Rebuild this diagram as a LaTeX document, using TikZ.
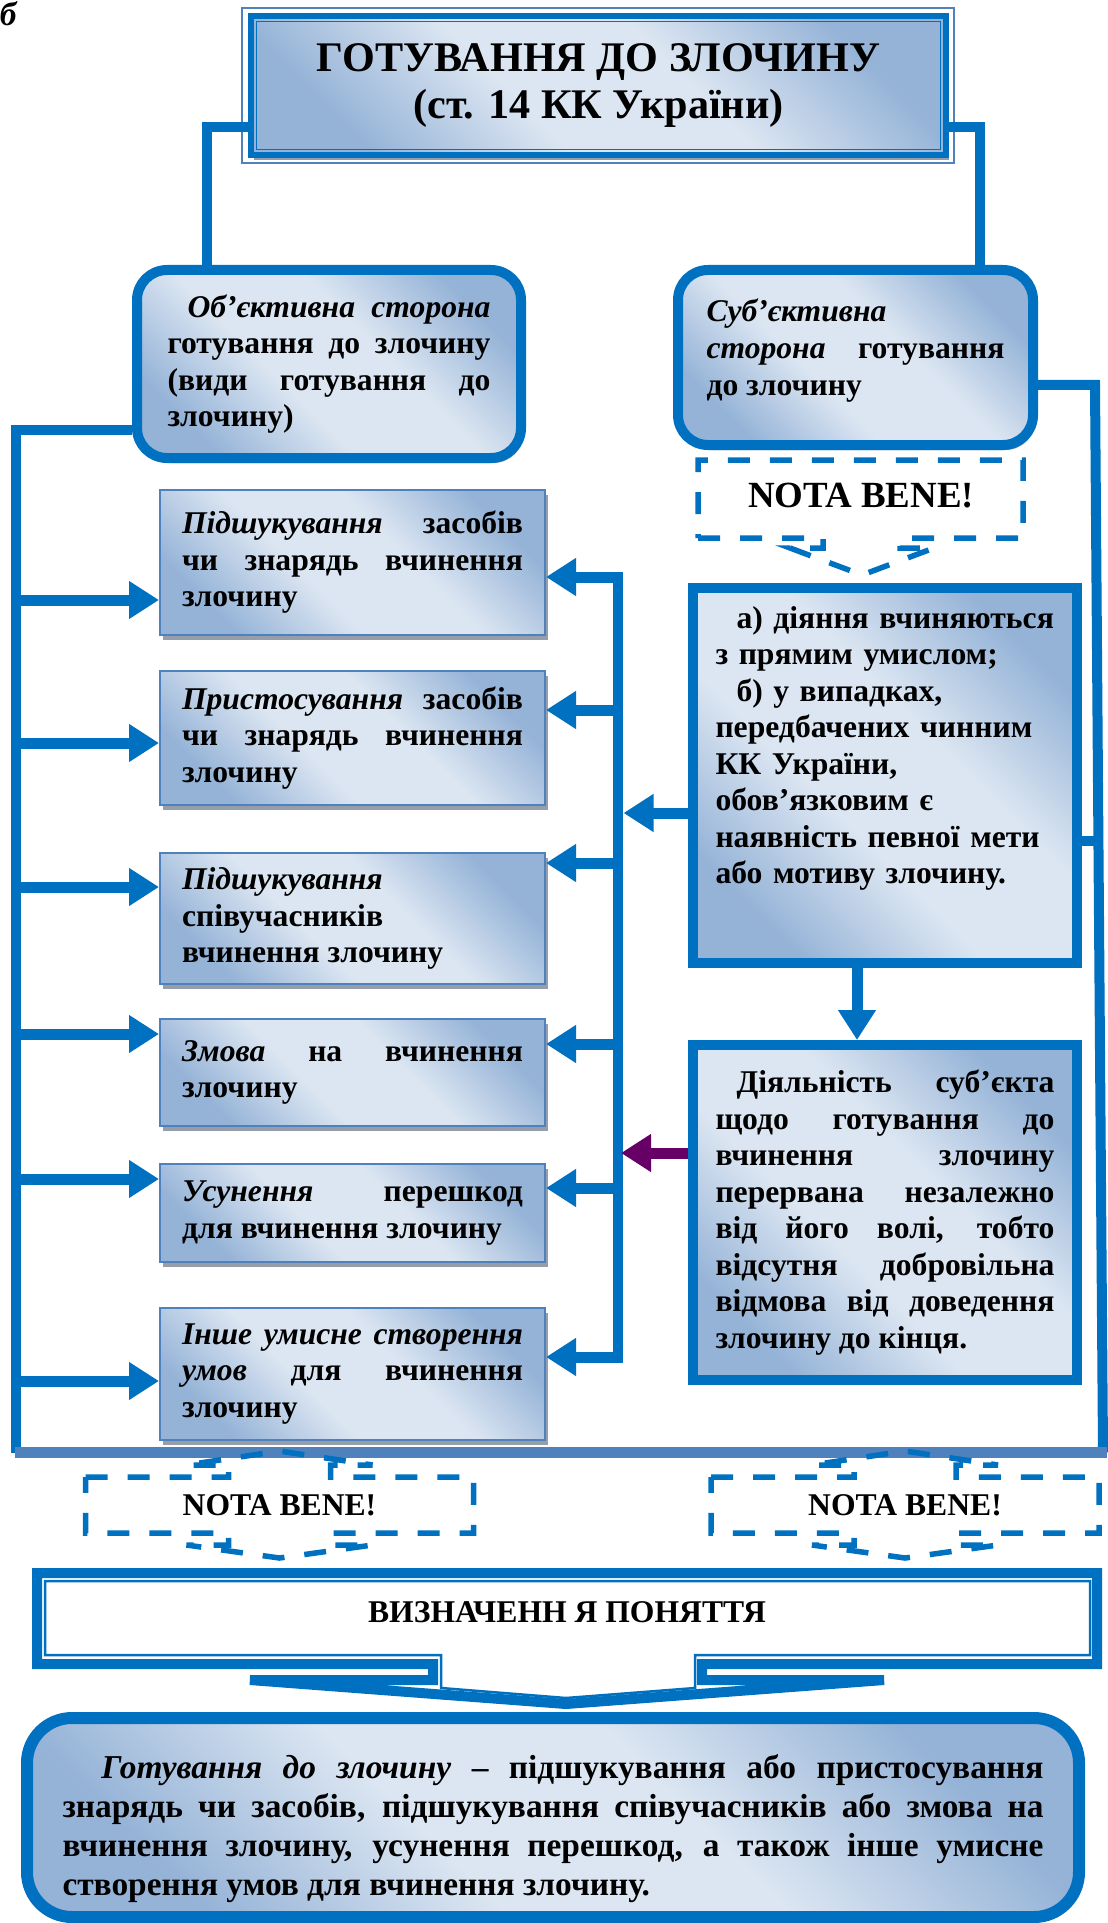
\documentclass[tikz,border=0pt]{standalone}
\usepackage{fontspec}
\setmainfont{Liberation Serif}
\usetikzlibrary{arrows.meta,shadows}

\definecolor{lineblue}{RGB}{0,112,192}
\definecolor{barblue}{RGB}{79,129,189}
\definecolor{gradlight}{RGB}{220,230,242}
\definecolor{graddark}{RGB}{149,179,215}
\definecolor{shadowgray}{RGB}{150,158,172}
\definecolor{stopviolet}{RGB}{102,0,102}

\pgfdeclarehorizontalshading{boxgrad}{100bp}{color(0bp)=(graddark); color(25bp)=(graddark); color(42bp)=(gradlight); color(58bp)=(gradlight); color(75bp)=(graddark); color(100bp)=(graddark)}

\begin{document}
\begin{tikzpicture}[
    every node/.style={font=\fontsize{18}{20.8}\selectfont\bfseries},
    conn/.style={draw=lineblue, line width=0.2cm},
    bigarrow/.style={draw=lineblue, line width=0.22cm, -{Triangle[length=0.6cm, width=0.72cm]}},
    grad/.style={shade, shading=boxgrad, shading angle=45},
    grayshadow/.style={drop shadow={shadow xshift=0.05cm, shadow yshift=-0.1cm, fill=shadowgray, opacity=1}},
    formbox/.style={draw=barblue, line width=0.04cm, grad, grayshadow, minimum width=7.7cm, text width=6.82cm, align=justify},
    sidebox/.style={draw=lineblue, line width=0.2cm, rounded corners=0.6cm, grad, grayshadow},
    notebox/.style={draw=lineblue, line width=0.2cm, grad, grayshadow, minimum width=7.68cm, text width=6.78cm},
    nbline/.style={draw=lineblue, line width=0.11cm, dash pattern=on 0.44cm off 0.4cm},
    nbtext/.style={font=\fontsize{21}{24}\selectfont\bfseries}
]

\useasboundingbox (0,0) rectangle (22.14,-38.46);

% letter of the scheme
\node[font=\fontsize{19}{21}\selectfont\bfseries\itshape, anchor=north west, inner sep=0pt] (letter) at (-0.01,-0.02) {б};

% Title
\node[draw=lineblue, line width=0.12cm, grad, grayshadow, minimum width=13.9cm, minimum height=2.78cm,
      align=center, font=\fontsize{24}{27}\selectfont\bfseries] (title) at (11.97,-1.71)
      {ГОТУВАННЯ ДО ЗЛОЧИНУ\\(ст. 14 КК України)};
\draw[barblue, line width=0.04cm] ([shift={(-0.12,0.1)}]title.north west) rectangle ([shift={(0.1,-0.1)}]title.south east);
\draw[lineblue, line width=0.03cm] ([shift={(0.17,-0.17)}]title.north west) rectangle ([shift={(-0.17,0.17)}]title.south east);

% Objective and subjective side
\node[sidebox, minimum width=7.68cm, minimum height=3.76cm, text width=6.46cm, align=justify] (objside) at (6.58,-7.28)
      {\hspace*{0.4cm}\textit{Об’єктивна сторона}\linebreak готування до злочину\linebreak (види готування до\linebreak злочину)};
\node[sidebox, minimum width=7.1cm, minimum height=3.5cm, text width=5.96cm, align=justify,
      text height=0.47cm, text depth=1.89cm] (subside) at (17.11,-7.15)
      {\textit{Суб’єктивна}\\\textit{сторона} готування\linebreak до злочину};

\draw[conn] (title.west |- 0,-2.54) -| (objside.north -| 4.14,0);
\draw[conn] (title.east |- 0,-2.54) -| (subside.north -| 19.6,0);

% Forms of preparation
\node[formbox, minimum height=2.9cm] (form1) at (7.05,-11.25)
      {\textit{Підшукування} засобів\linebreak чи знарядь вчинення\linebreak злочину};
\node[formbox, minimum height=2.68cm] (form2) at (7.05,-14.76)
      {\textit{Пристосування} засобів\linebreak чи знарядь вчинення\linebreak злочину};
\node[formbox, minimum height=2.62cm] (form3) at (7.05,-18.37)
      {\textit{Підшукування}\\співучасників\\вчинення злочину};
\node[formbox, minimum height=2.14cm] (form4) at (7.05,-21.45)
      {\textit{Змова} на вчинення\linebreak злочину};
\node[formbox, minimum height=1.96cm] (form5) at (7.05,-24.26)
      {\textit{Усунення} перешкод\linebreak для вчинення злочину};
\node[formbox, minimum height=2.64cm] (form6) at (7.05,-27.48)
      {\textit{Інше умисне створення}\linebreak\textit{умов} для вчинення\linebreak злочину};

% Subjective features
\node[notebox, minimum height=7.5cm, align=left, text height=0.47cm, text depth=6.37cm] (intent) at (17.7,-15.51)
      {\hspace*{0.42cm}а) діяння вчиняються\\з прямим умислом;\\\hspace*{0.42cm}б) у випадках,\\передбачених чинним\\КК України,\\обов’язковим є\\наявність певної мети\\або мотиву злочину.};
\node[notebox, minimum height=6.7cm, align=justify] (interrupt) at (17.7,-24.25)
      {\hspace*{0.42cm}Діяльність суб’єкта\linebreak щодо готування до\linebreak вчинення злочину\linebreak перервана незалежно\linebreak від його волі, тобто\linebreak відсутня добровільна\linebreak відмова від доведення\linebreak злочину до кінця.};

\draw[bigarrow] (intent.south -| 17.14,0) -- (interrupt.north -| 17.14,0);

% Outer frame
\coordinate (lb) at (0.31,-29.05);
\coordinate (rb) at (22.06,-29.05);
\draw[conn] (objside.west |- 0,-8.6) -| (lb);
\draw[conn] (subside.east |- 0,-7.7) -- (21.9,-7.7) -- (rb);
\draw[conn] (21.97,-16.82) -- (intent.east |- 0,-16.82);
\draw[draw=barblue, line width=0.22cm] (0.3,-29.05) -- (22.14,-29.05);

% arrows to the forms
\foreach \y/\n in {-12.0/1, -14.86/2, -17.74/3, -20.68/4, -23.58/5, -27.62/6}
    \draw[bigarrow] (0.31,\y) -- (form\n.west |- 0,\y);

% right bus
\draw[conn] (12.36,-11.44) -- (12.36,-27.25);
\foreach \y/\n in {-11.54/1, -14.2/2, -17.26/3, -20.88/4, -23.76/5, -27.14/6}
    \draw[bigarrow] (12.46,\y) -- (form\n.east |- 0,\y);
\draw[bigarrow] (intent.west |- 0,-16.26) -- (12.47,-16.26);
\draw[bigarrow, draw=stopviolet] (interrupt.west |- 0,-23.06) -- (12.42,-23.06);

% NOTA BENE (top)
\draw[nbline] (13.96,-10.76) -- (16.46,-10.76) -- (16.46,-10.96) -- (15.8,-10.96) -- (17.24,-11.5)
    -- (18.68,-10.96) -- (18.0,-10.96) -- (18.0,-10.76) -- (20.46,-10.76) -- (20.46,-9.2) -- (13.96,-9.2) -- cycle;
\node[nbtext] (nb1) at (17.22,-9.92) {NOTA BENE!};

% NOTA BENE (bottom left)
\begin{scope}[shift={(5.59,-30.1)}]
    \draw[nbline] (-3.88,0.56) -- (-1.02,0.56) -- (-1.02,0.8) -- (-1.86,0.8) -- (0,1.08) -- (1.86,0.8) -- (1.02,0.8)
        -- (1.02,0.56) -- (3.88,0.56) -- (3.88,-0.56) -- (1.02,-0.56) -- (1.02,-0.8) -- (1.86,-0.8) -- (0,-1.06)
        -- (-1.86,-0.8) -- (-1.02,-0.8) -- (-1.02,-0.56) -- (-3.88,-0.56) -- cycle;
    \node[nbtext, font=\fontsize{18}{21}\selectfont\bfseries] (nb2) at (0,0) {NOTA BENE!};
\end{scope}

% NOTA BENE (bottom right)
\begin{scope}[shift={(18.1,-30.1)}]
    \draw[nbline] (-3.88,0.56) -- (-1.02,0.56) -- (-1.02,0.8) -- (-1.86,0.8) -- (0,1.08) -- (1.86,0.8) -- (1.02,0.8)
        -- (1.02,0.56) -- (3.88,0.56) -- (3.88,-0.56) -- (1.02,-0.56) -- (1.02,-0.8) -- (1.86,-0.8) -- (0,-1.06)
        -- (-1.86,-0.8) -- (-1.02,-0.8) -- (-1.02,-0.56) -- (-3.88,-0.56) -- cycle;
    \node[nbtext, font=\fontsize{18}{21}\selectfont\bfseries] (nb3) at (0,0) {NOTA BENE!};
\end{scope}

% Definition header
\draw[lineblue, line width=0.2cm, line join=miter] (0.74,-31.46) -- (21.94,-31.46) -- (21.94,-33.28) -- (14.04,-33.28) -- (14.04,-33.6)
    -- (17.68,-33.6) -- (11.32,-34.08) -- (5.0,-33.6) -- (8.66,-33.6) -- (8.66,-33.28) -- (0.74,-33.28) -- cycle;
\draw[lineblue, line width=0.05cm] (0.9,-31.62) -- (21.8,-31.62) -- (21.8,-33.1) -- (13.9,-33.1) -- (13.9,-33.76)
    -- (11.32,-33.96) -- (8.82,-33.76) -- (8.82,-33.1) -- (0.9,-33.1) -- cycle;
\node (defhead) at (11.34,-32.24) {ВИЗНАЧЕНН Я ПОНЯТТЯ};

% Definition
\node[draw=lineblue, line width=0.24cm, rounded corners=0.9cm, grad, grayshadow, minimum width=21.04cm, minimum height=3.98cm,
      text width=19.62cm, align=justify, text height=0.9cm, text depth=2.45cm,
      font=\fontsize{19}{22.2}\selectfont\bfseries] (defbox) at (11.06,-36.35)
      {\hspace*{0.78cm}\textit{Готування до злочину} – підшукування або пристосування\linebreak знарядь чи засобів, підшукування співучасників або змова на\linebreak вчинення злочину, усунення перешкод, а також інше умисне\linebreak створення умов для вчинення злочину.};

\end{tikzpicture}
\end{document}
